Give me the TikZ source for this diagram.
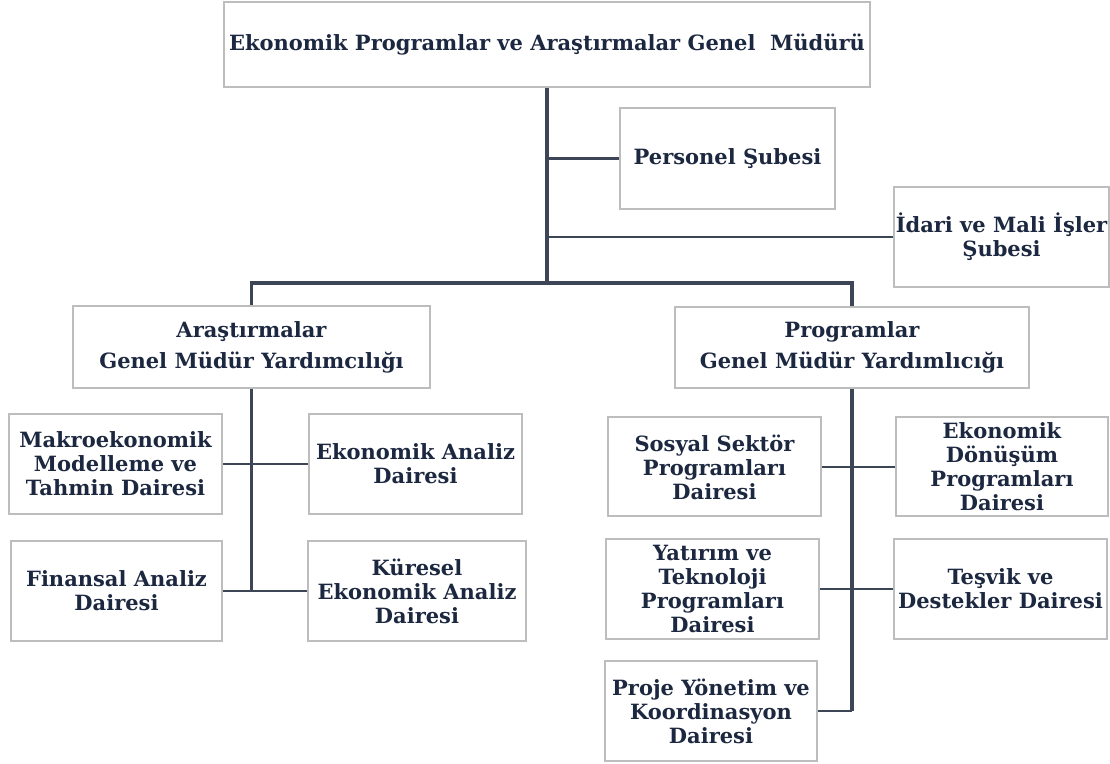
\documentclass[tikz,border=0pt]{standalone}
\usepackage{fontspec}
\setmainfont{DejaVu Serif}
\usepackage{xcolor}
\usetikzlibrary{positioning}

\definecolor{txtnavy}{HTML}{1C2740}
\definecolor{linkgray}{HTML}{3D4656}
\definecolor{boxgray}{HTML}{BDBDBD}

\begin{document}
\begin{tikzpicture}[x=0.5pt,y=-0.5pt,
  unit/.style={draw=boxgray,line width=1pt,fill=white,align=center,inner sep=1pt,
    text=txtnavy,font=\bfseries\fontsize{10.5}{12}\selectfont},
  gmy/.style={unit,font=\bfseries\fontsize{10.5}{15.5}\selectfont},
  trunk/.style={draw=linkgray,line width=1.8pt},
  branch/.style={draw=linkgray,line width=1.2pt}]

	\useasboundingbox (0,0) rectangle (1110,764);

	% The chart
	\node [unit,minimum width=323pt,minimum height=42.5pt] at (547,44.5) (gm) {Ekonomik Programlar ve Araştırmalar Genel\ \ Müdürü};
	\node [unit,minimum width=107.5pt,minimum height=50.5pt] at (727.5,158.5) (pers) {Personel Şubesi};
	\node [unit,minimum width=107.5pt,minimum height=50pt] at (1001.5,237) (idari) {İdari ve Mali İşler\\Şubesi};

	\node [gmy,minimum width=178.5pt,minimum height=41pt] at (251.5,347) (arastirma) {Araştırmalar\\Genel Müdür Yardımcılığı};
	\node [gmy,minimum width=177pt,minimum height=40.5pt] at (852,347.5) (program) {Programlar\\Genel Müdür Yardımlıcığı};

	\node [unit,minimum width=106.5pt,minimum height=50pt] at (115.5,464) (makro) {Makroekonomik\\Modelleme ve\\Tahmin Dairesi};
	\node [unit,minimum width=106.5pt,minimum height=50pt] at (415.5,464) (ekoanaliz) {Ekonomik Analiz\\Dairesi};
	\node [unit,minimum width=105.5pt,minimum height=50pt] at (116.5,591) (finansal) {Finansal Analiz\\Dairesi};
	\node [unit,minimum width=109pt,minimum height=50pt] at (417,591) (kuresel) {Küresel\\Ekonomik Analiz\\Dairesi};

	\node [unit,minimum width=106.5pt,minimum height=49.5pt] at (714.5,467) (sosyal) {Sosyal Sektör\\Programları\\Dairesi};
	\node [unit,minimum width=106pt,minimum height=49.5pt] at (1002,467) (donusum) {Ekonomik\\Dönüşüm\\Programları\\Dairesi};
	\node [unit,minimum width=106.5pt,minimum height=50pt] at (712.5,589) (yatirim) {Yatırım ve\\Teknoloji\\Programları\\Dairesi};
	\node [unit,minimum width=106.5pt,minimum height=50pt] at (1000.5,589) (tesvik) {Teşvik ve\\Destekler Dairesi};
	\node [unit,minimum width=106pt,minimum height=50pt] at (711,711) (proje) {Proje Yönetim ve\\Koordinasyon\\Dairesi};

	\coordinate (busL) at (251.5,283);
	\coordinate (busR) at (852,283);

	% Links
	\path[trunk]
	(gm.south) -- (gm.south |- busL)
	(arastirma.north) -- (busL) -- (busR) -- (program.north)
	(arastirma.south) -- (arastirma.south |- finansal.east)
	(program.south) -- (program.south |- proje.east)
	;

	\path[branch]
	(pers.west) -- (pers.west -| gm.south)
	(idari.west) -- (idari.west -| gm.south)
	(makro.east) -- (ekoanaliz.west)
	(finansal.east) -- (kuresel.west)
	(sosyal.east) -- (donusum.west)
	(yatirim.east) -- (tesvik.west)
	(proje.east) -- (program.south |- proje.east)
	;

\end{tikzpicture}
\end{document}
